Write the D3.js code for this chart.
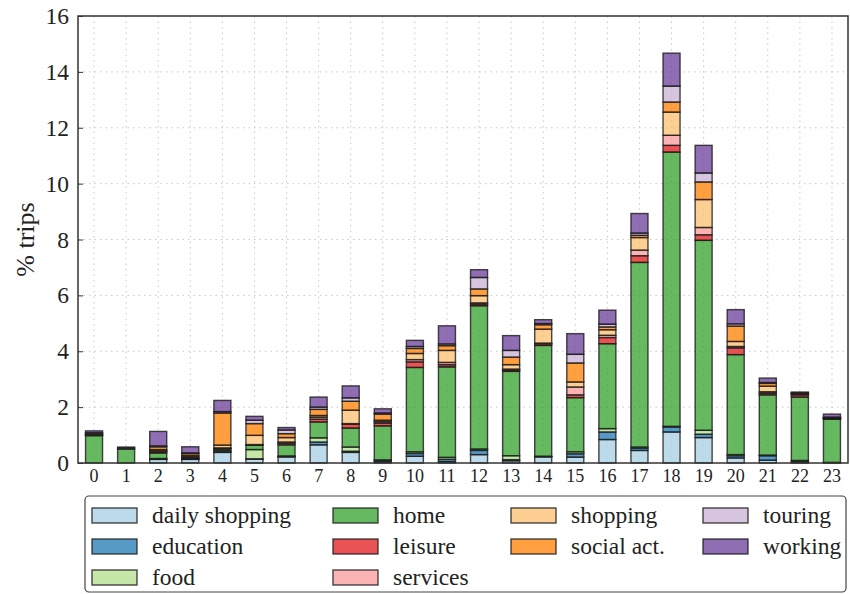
<!DOCTYPE html>
<html>
<head>
<meta charset="utf-8">
<script src="https://cdn.jsdelivr.net/npm/d3@7"></script>
<style>
  html, body { margin: 0; padding: 0; background: #fff; }
  svg text { font-family: "Liberation Serif", "DejaVu Serif", serif; fill: #222; }
</style>
</head>
<body>
<svg id="chart" width="850" height="594"></svg>
<script>
// Hour of day
const hours = d3.range(24).map(String);

// Trip purposes, stacked bottom to top
const purposes = ["daily shopping", "education", "food", "home", "leisure",
                  "services", "shopping", "social act.", "touring", "working"];

const purposeColors = ["#a6cee3", "#1f78b4", "#b2df8a", "#33a02c", "#e31a1c",
                       "#fb9a99", "#fdbf6f", "#ff7f00", "#cab2d6", "#6a3d9a"];

// % of trips per hour, one array per purpose
const dailyShopping = [0.00, 0.00, 0.13, 0.13, 0.38, 0.14, 0.22, 0.65, 0.38, 0.04, 0.24, 0.05, 0.30, 0.08, 0.22, 0.21, 0.84, 0.45, 1.11, 0.91, 0.18, 0.10, 0.02, 0.01];
const education     = [0.00, 0.00, 0.01, 0.01, 0.02, 0.01, 0.01, 0.10, 0.04, 0.05, 0.10, 0.08, 0.15, 0.04, 0.01, 0.12, 0.27, 0.08, 0.18, 0.12, 0.08, 0.16, 0.04, 0.00];
const food          = [0.00, 0.00, 0.02, 0.01, 0.04, 0.33, 0.02, 0.15, 0.15, 0.02, 0.06, 0.07, 0.05, 0.14, 0.01, 0.07, 0.12, 0.04, 0.02, 0.14, 0.04, 0.02, 0.03, 0.01];
const home          = [0.98, 0.50, 0.20, 0.02, 0.06, 0.16, 0.40, 0.57, 0.68, 1.22, 3.02, 3.24, 5.13, 3.02, 3.97, 1.94, 3.04, 6.61, 9.82, 6.80, 3.58, 2.16, 2.27, 1.55];
const leisure       = [0.02, 0.00, 0.05, 0.04, 0.02, 0.01, 0.06, 0.10, 0.14, 0.10, 0.20, 0.08, 0.06, 0.05, 0.06, 0.10, 0.22, 0.24, 0.24, 0.20, 0.24, 0.06, 0.08, 0.02];
const services      = [0.00, 0.00, 0.03, 0.02, 0.02, 0.01, 0.04, 0.07, 0.02, 0.05, 0.08, 0.08, 0.04, 0.03, 0.02, 0.28, 0.08, 0.20, 0.36, 0.26, 0.05, 0.05, 0.02, 0.01];
const shopping      = [0.02, 0.00, 0.04, 0.04, 0.10, 0.33, 0.16, 0.06, 0.48, 0.05, 0.22, 0.43, 0.26, 0.16, 0.50, 0.18, 0.20, 0.45, 0.83, 1.00, 0.18, 0.20, 0.02, 0.01];
const socialAct     = [0.04, 0.00, 0.10, 0.07, 1.15, 0.42, 0.14, 0.22, 0.32, 0.22, 0.18, 0.17, 0.24, 0.27, 0.16, 0.68, 0.10, 0.08, 0.36, 0.63, 0.55, 0.10, 0.02, 0.01];
const touring       = [0.02, 0.04, 0.03, 0.02, 0.05, 0.12, 0.13, 0.08, 0.12, 0.04, 0.07, 0.06, 0.41, 0.24, 0.04, 0.31, 0.10, 0.08, 0.57, 0.32, 0.08, 0.03, 0.01, 0.02];
const working       = [0.07, 0.03, 0.52, 0.22, 0.40, 0.14, 0.09, 0.36, 0.43, 0.15, 0.22, 0.65, 0.28, 0.53, 0.14, 0.74, 0.50, 0.70, 1.18, 0.99, 0.51, 0.16, 0.03, 0.11];

const yTicks = [0, 2, 4, 6, 8, 10, 12, 14, 16];

const seriesValues = [dailyShopping, education, food, home, leisure,
                      services, shopping, socialAct, touring, working];

// Table for d3.stack: one row per hour
const rows = hours.map((h, i) => {
  const r = { hour: h };
  purposes.forEach((p, k) => { r[p] = seriesValues[k][i]; });
  return r;
});

const svg = d3.select("#chart");
const plot = { left: 78, right: 848, top: 16, bottom: 463 };

const x = d3.scaleBand().domain(hours).range([plot.left, plot.right]).padding(0);
const y = d3.scaleLinear().domain([0, 16]).range([plot.bottom, plot.top]);
const color = d3.scaleOrdinal().domain(purposes).range(purposeColors);
const barW = x.bandwidth() * 0.53;

// Dotted grid
const grid = svg.append("g");
grid.selectAll("line.hy").data(yTicks.slice(1, -1)).join("line")
  .attr("x1", plot.left).attr("x2", plot.right)
  .attr("y1", d => y(d)).attr("y2", d => y(d))
  .attr("stroke", "#c8c8c8").attr("stroke-width", 1).attr("stroke-dasharray", "1.5,4");
grid.selectAll("line.vx").data(hours).join("line")
  .attr("x1", d => x(d) + x.bandwidth() / 2).attr("x2", d => x(d) + x.bandwidth() / 2)
  .attr("y1", plot.top).attr("y2", plot.bottom)
  .attr("stroke", "#c8c8c8").attr("stroke-width", 1).attr("stroke-dasharray", "1.5,4");

// Stacked bars
const stacked = d3.stack().keys(purposes)(rows);
svg.append("g").selectAll("g").data(stacked).join("g")
  .attr("fill", d => color(d.key))
  .selectAll("rect").data(d => d).join("rect")
  .attr("x", d => x(d.data.hour) + (x.bandwidth() - barW) / 2)
  .attr("width", barW)
  .attr("y", d => y(d[1]))
  .attr("height", d => y(d[0]) - y(d[1]))
  .attr("fill-opacity", 0.75)
  .attr("stroke", "#1a1a1a").attr("stroke-opacity", 0.8).attr("stroke-width", 1.4);

// Frame
svg.append("rect")
  .attr("x", plot.left).attr("y", plot.top)
  .attr("width", plot.right - plot.left).attr("height", plot.bottom - plot.top)
  .attr("fill", "none").attr("stroke", "#333").attr("stroke-width", 1.5);

// Y axis
const yAxis = d3.axisLeft(y).tickValues(yTicks).tickSizeInner(-5).tickSizeOuter(0).tickPadding(9);
const gy = svg.append("g").attr("transform", `translate(${plot.left},0)`).call(yAxis);
gy.select(".domain").remove();
gy.selectAll(".tick line").attr("stroke", "#333");
gy.selectAll("text").attr("font-size", 23.5).attr("fill", "#222")
  .style("font-family", "'Liberation Serif', serif");

// X axis
const xAxis = d3.axisBottom(x).tickSize(0).tickPadding(6);
const gx = svg.append("g").attr("transform", `translate(0,${plot.bottom})`).call(xAxis);
gx.select(".domain").remove();
gx.selectAll("text").attr("font-size", 18).attr("fill", "#222")
  .style("font-family", "'Liberation Serif', serif");

// Y label
svg.append("text")
  .attr("transform", `translate(34,${(plot.top + plot.bottom) / 2}) rotate(-90)`)
  .attr("text-anchor", "middle")
  .attr("font-size", 26)
  .text("% trips");

// Legend
const legend = svg.append("g");
legend.append("rect")
  .attr("x", 85).attr("y", 496).attr("width", 761).attr("height", 96)
  .attr("rx", 4).attr("fill", "#fff").attr("stroke", "#444").attr("stroke-width", 1.2);

const colX = [92, 333, 511, 703];
const rowY = [515.5, 546.5, 577.5];
const perCol = [3, 3, 2, 2];
let idx = 0;
perCol.forEach((n, c) => {
  for (let r = 0; r < n; r++, idx++) {
    const p = purposes[idx];
    legend.append("rect")
      .attr("x", colX[c]).attr("y", rowY[r] - 7.5).attr("width", 45).attr("height", 15)
      .attr("fill", color(p)).attr("fill-opacity", 0.75)
      .attr("stroke", "#1a1a1a").attr("stroke-opacity", 0.8).attr("stroke-width", 1.4);
    legend.append("text")
      .attr("x", colX[c] + 60).attr("y", rowY[r])
      .attr("dy", "0.32em")
      .attr("font-size", 23.5)
      .text(p);
  }
});
</script>
</body>
</html>
